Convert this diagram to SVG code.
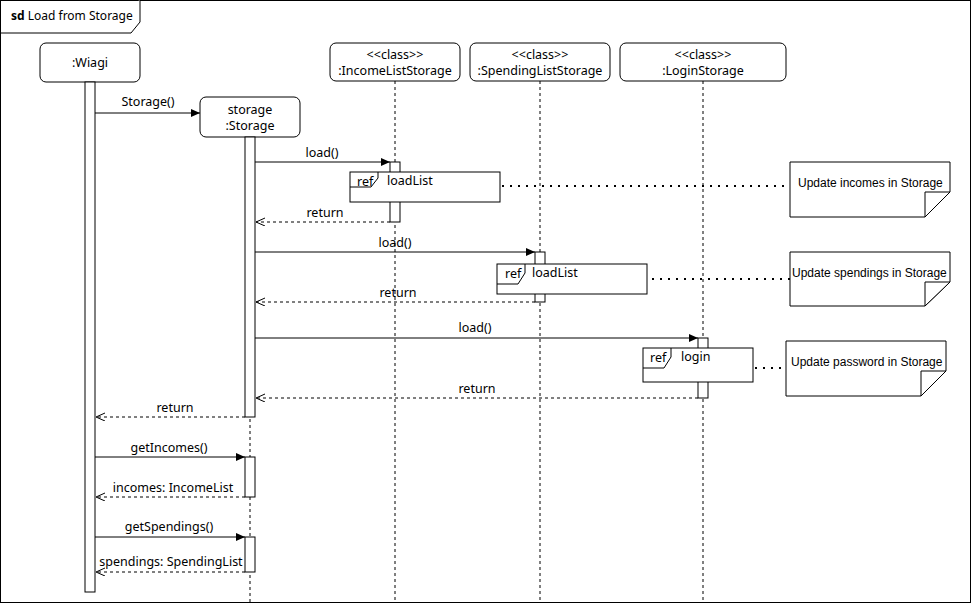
<svg xmlns="http://www.w3.org/2000/svg" width="971" height="603" viewBox="0 0 971 603">
<style>
text{font-family:"Noto Sans","Liberation Sans",sans-serif;font-size:12.5px;fill:#000}
.n{font-family:"Liberation Sans",Arial,sans-serif;font-size:12px}
.box{fill:#fff;stroke:#000;stroke-width:1}
.ll{stroke:#000;stroke-dasharray:3,3;fill:none}
.m{stroke:#000;fill:none;marker-end:url(#a)}
.r{stroke:#000;fill:none;stroke-dasharray:3,3;marker-end:url(#o)}
.dot{stroke:#000;stroke-width:2;stroke-dasharray:2,6;fill:none}
</style>
<defs>
<marker id="a" markerWidth="10" markerHeight="10" refX="9" refY="4" orient="auto" markerUnits="userSpaceOnUse"><path d="M0,0 L9,4 L0,8 z" fill="#000"/></marker>
<marker id="o" markerWidth="10" markerHeight="10" refX="9" refY="4" orient="auto" markerUnits="userSpaceOnUse"><path d="M0,0 L9,4 L0,8" fill="none" stroke="#000"/></marker>
</defs>
<rect x="0.5" y="0.5" width="970" height="602" fill="#fff" stroke="#000"/>
<path d="M0.5,33 H131 L140,22 V0.5" fill="#fff" stroke="#000"/>
<text x="11" y="20" style="font-size:12px"><tspan font-weight="bold">sd</tspan> Load from Storage</text>
<g id="lifelines">
<line class="ll" x1="250" y1="137" x2="250" y2="603"/>
<line class="ll" x1="395" y1="81" x2="395" y2="603"/>
<line class="ll" x1="540" y1="81" x2="540" y2="603"/>
<line class="ll" x1="703" y1="81" x2="703" y2="603"/>
</g>
<g id="wiagi"><rect class="box" x="40" y="43" width="100" height="39" rx="6"/><text x="90" y="67" text-anchor="middle">:Wiagi</text><rect class="box" x="85" y="82" width="10" height="510"/></g>
<g id="storage"><rect class="box" x="200" y="97" width="100" height="40" rx="6"/><text x="250" y="114" text-anchor="middle">storage</text><text x="250" y="130" text-anchor="middle">:Storage</text>
<rect class="box" x="245" y="137" width="10" height="280"/><rect class="box" x="245" y="457" width="10" height="40"/><rect class="box" x="245" y="537" width="10" height="35"/></g>
<g id="income"><rect class="box" x="330" y="43" width="130" height="38" rx="6"/><text x="395" y="59" text-anchor="middle">&lt;&lt;class&gt;&gt;</text><text x="395" y="75" text-anchor="middle">:IncomeListStorage</text><rect class="box" x="390" y="162" width="10" height="60"/></g>
<g id="spending"><rect class="box" x="470" y="43" width="140" height="38" rx="6"/><text x="540" y="59" text-anchor="middle">&lt;&lt;class&gt;&gt;</text><text x="540" y="75" text-anchor="middle">:SpendingListStorage</text><rect class="box" x="535" y="252" width="10" height="50"/></g>
<g id="login"><rect class="box" x="620" y="43" width="166" height="38" rx="6"/><text x="703" y="59" text-anchor="middle">&lt;&lt;class&gt;&gt;</text><text x="703" y="75" text-anchor="middle">:LoginStorage</text><rect class="box" x="698" y="338" width="10" height="60"/></g>
<g id="ref1"><rect class="box" x="350" y="172" width="150" height="30"/><path d="M350,187 H371 L378,178 V172" fill="none" stroke="#000"/><text x="357" y="186">ref</text><text x="387" y="185">loadList</text></g>
<g id="ref2"><rect class="box" x="497" y="264" width="150" height="30"/><path d="M497,284 H518 L525,273 V264" fill="none" stroke="#000"/><text x="505" y="278">ref</text><text x="532" y="277">loadList</text></g>
<g id="ref3"><rect class="box" x="643" y="348" width="110" height="34"/><path d="M643,368 H664 L671,357 V348" fill="none" stroke="#000"/><text x="650" y="362">ref</text><text x="681" y="361">login</text></g>
<g id="note1"><path class="box" d="M790,162 H950 V192 L925,217 H790 Z"/><path d="M950,192 L925,217 V192 Z" fill="#fff" stroke="#000"/><text class="n" x="798" y="187">Update incomes in Storage</text></g>
<g id="note2"><path class="box" d="M790,252 H950 V282 L925,306 H790 Z"/><path d="M950,282 L925,306 V282 Z" fill="#fff" stroke="#000"/><text class="n" x="792" y="277">Update spendings in Storage</text></g>
<g id="note3"><path class="box" d="M786,341 H946 V371 L921,396 H786 Z"/><path d="M946,371 L921,396 V371 Z" fill="#fff" stroke="#000"/><text class="n" x="791" y="366">Update password in Storage</text></g>
<g id="connectors">
<line class="m" x1="95" y1="113" x2="200" y2="113"/><text x="148" y="106" text-anchor="middle">Storage()</text>
<line class="m" x1="255" y1="162" x2="390" y2="162"/><text x="322" y="157" text-anchor="middle">load()</text>
<line class="r" x1="390" y1="222" x2="256" y2="222"/><text x="325" y="217" text-anchor="middle">return</text>
<line class="m" x1="255" y1="252" x2="535" y2="252"/><text x="395" y="247" text-anchor="middle">load()</text>
<line class="r" x1="535" y1="302" x2="256" y2="302"/><text x="398" y="297" text-anchor="middle">return</text>
<line class="m" x1="255" y1="338" x2="698" y2="338"/><text x="475" y="332" text-anchor="middle">load()</text>
<line class="r" x1="698" y1="398" x2="256" y2="398"/><text x="477" y="393" text-anchor="middle">return</text>
<line class="r" x1="245" y1="417" x2="96" y2="417"/><text x="175" y="412" text-anchor="middle">return</text>
<line class="m" x1="95" y1="457" x2="245" y2="457"/><text x="169" y="452" text-anchor="middle">getIncomes()</text>
<line class="r" x1="245" y1="497" x2="96" y2="497"/><text x="173" y="492" text-anchor="middle">incomes: IncomeList</text>
<line class="m" x1="95" y1="537" x2="245" y2="537"/><text x="169" y="531" text-anchor="middle">getSpendings()</text>
<line class="r" x1="245" y1="572" x2="96" y2="572"/><text x="171" y="566" text-anchor="middle">spendings: SpendingList</text>
<line class="dot" x1="502" y1="186" x2="790" y2="186"/>
<line class="dot" x1="652" y1="279" x2="790" y2="279"/>
<line class="dot" x1="755" y1="368" x2="786" y2="368"/>
</g>
</svg>
